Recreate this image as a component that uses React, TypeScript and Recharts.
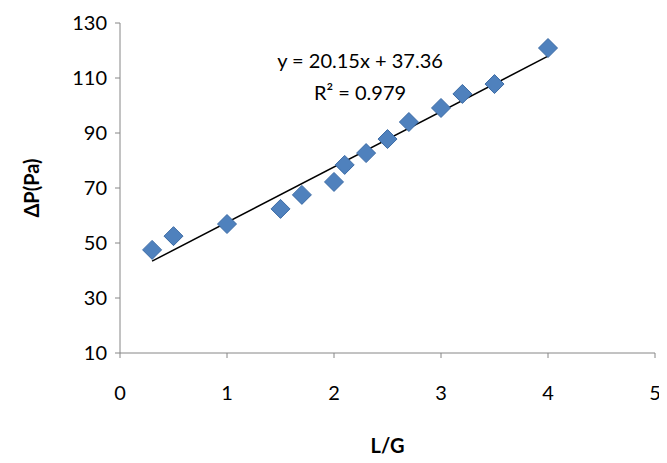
import React from "react";
import { ComposedChart, Scatter, XAxis, YAxis } from "recharts";

const lg = [0.3, 0.5, 1.0, 1.5, 1.7, 2.0, 2.1, 2.3, 2.5, 2.7, 3.0, 3.2, 3.5, 4.0];
const dp = [47.5, 52.5, 56.9, 62.4, 67.5, 72.2, 78.4, 82.7, 87.8, 94, 99.1, 104.2, 107.8, 120.9];
const slope = 20.15;
const intercept = 37.36;
const trendX = [0.3, 4.0];
const xTicks = [0, 1, 2, 3, 4, 5];
const yTicks = [10, 30, 50, 70, 90, 110, 130];

const points = lg.map((x, i) => ({ x, y: dp[i] }));
const trend = trendX.map((x) => ({ x, y: slope * x + intercept }));

const font = "Lato, 'Open Sans', sans-serif";

const Diamond = (props: any) => {
  const { cx, cy } = props;
  const r = 9.5;
  return (
    <path
      d={`M${cx},${cy - r}L${cx + r},${cy}L${cx},${cy + r}L${cx - r},${cy}Z`}
      fill="#4F81BD"
      stroke="#3C6BA5"
      strokeWidth={1}
    />
  );
};

export default function App() {
  return (
    <div style={{ position: "relative", width: 659, height: 450, fontFamily: font }}>
      <ComposedChart width={659} height={450} margin={{ top: 15, right: 12, bottom: 5, left: 52 }}>
        <XAxis
          type="number"
          dataKey="x"
          domain={[0, 5]}
          ticks={xTicks}
          stroke="#868686"
          tick={{ fill: "#000", fontSize: 20, fontFamily: font }}
          tickSize={5}
          height={100}
          tickMargin={28}
          label={{ value: "L/G", position: "insideBottom", offset: 0, style: { fontWeight: "bold", fontSize: 20, fill: "#000", fontFamily: font } }}
        />
        <YAxis
          type="number"
          dataKey="y"
          domain={[10, 130]}
          ticks={yTicks}
          stroke="#868686"
          tick={{ fill: "#000", fontSize: 20, fontFamily: font }}
          tickSize={5}
          width={60}
          tickMargin={8}
          label={{ value: "ΔP(Pa)", angle: -90, position: "insideLeft", offset: -28, style: { fontWeight: "bold", fontSize: 20, fill: "#000", fontFamily: font, textAnchor: "middle" } }}
        />
        <Scatter data={trend} line={{ stroke: "#000", strokeWidth: 1.5 }} shape={() => null} isAnimationActive={false} />
        <Scatter data={points} shape={Diamond} isAnimationActive={false} />
      </ComposedChart>
      <div style={{ position: "absolute", left: 252, top: 36, fontSize: 20, lineHeight: "32px", textAlign: "center", width: 200 }}>
        <div>y = 20.15x + 37.36</div>
        <div>R² = 0.979</div>
      </div>
    </div>
  );
}
